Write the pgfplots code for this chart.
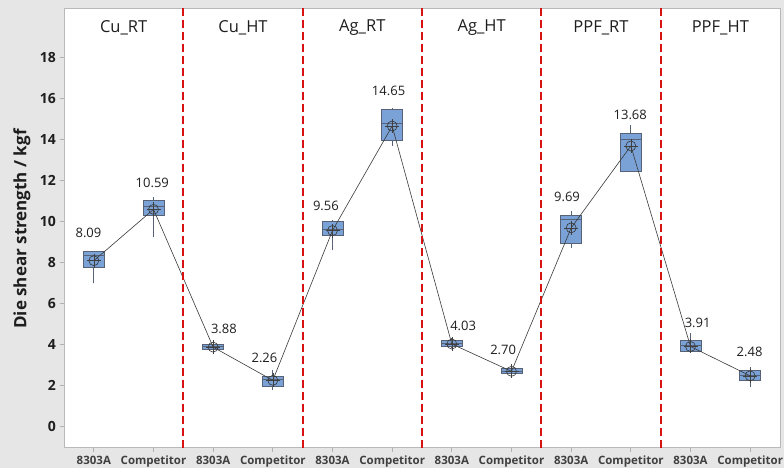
\documentclass[border=0pt]{standalone}
\usepackage{fontspec}
\setmainfont{Open Sans}
\usepackage{pgfplots}
\pgfplotsset{compat=1.18}
\usepgfplotslibrary{statistics}
\definecolor{bg}{RGB}{230,230,230}
\definecolor{boxfill}{RGB}{122,162,214}
\definecolor{boxedge}{RGB}{88,98,118}
\definecolor{sepred}{RGB}{214,18,18}
\definecolor{txt}{RGB}{30,30,30}
\pgfplotsset{mybox/.style={fill=boxfill, draw=boxedge, line width=0.8pt, solid, mark=none}}
\tikzset{ptitle/.style={font=\fontsize{16.5}{18}\selectfont, text=txt},
         mlab/.style={font=\fontsize{13}{15}\selectfont, text=txt}}
\begin{document}
\begin{tikzpicture}
\fill[bg] (0pt,0pt) rectangle (784pt,468pt);
\begin{axis}[at={(64pt,20.3pt)}, anchor=south west, scale only axis,
  width=716pt, height=439.7pt,
  xmin=0.5, xmax=12.5, ymin=-1.02, ymax=20.4,
  axis background/.style={fill=white},
  axis line style={gray!55, line width=0.8pt},
  xtick={1,...,12},
  xticklabels={8303A,Competitor,8303A,Competitor,8303A,Competitor,8303A,Competitor,8303A,Competitor,8303A,Competitor},
  ytick={0,2,...,18},
  tick align=outside, xtick pos=bottom, ytick pos=left,
  major tick length=4.5pt,
  tick style={gray!60, line width=0.8pt},
  /pgf/number format/assume math mode=true,
  yticklabel style={font=\fontsize{14}{16}\selectfont\bfseries, text=txt},
  xticklabel style={font=\fontsize{11.5}{14}\selectfont\bfseries, text=txt!85},
  boxplot/draw direction=y,
  boxplot/box extend=0.35,
  boxplot/whisker extend=0,
  clip=false,
]
% boxes
\addplot[mybox, boxplot prepared={draw position=1, lower whisker=6.99, lower quartile=7.77, median=8.35, upper quartile=8.56, upper whisker=8.56}] coordinates {};
\addplot[mybox, boxplot prepared={draw position=2, lower whisker=9.23, lower quartile=10.28, median=10.75, upper quartile=11.01, upper whisker=11.20}] coordinates {};
\addplot[mybox, boxplot prepared={draw position=3, lower whisker=3.70, lower quartile=3.77, median=3.90, upper quartile=4.01, upper whisker=4.05}] coordinates {};
\addplot[mybox, boxplot prepared={draw position=4, lower whisker=1.79, lower quartile=1.98, median=2.30, upper quartile=2.47, upper whisker=2.76}] coordinates {};
\addplot[mybox, boxplot prepared={draw position=5, lower whisker=8.61, lower quartile=9.34, median=9.59, upper quartile=9.99, upper whisker=10.07}] coordinates {};
\addplot[mybox, boxplot prepared={draw position=6, lower whisker=13.68, lower quartile=13.97, median=14.79, upper quartile=15.47, upper whisker=15.55}] coordinates {};
\addplot[mybox, boxplot prepared={draw position=7, lower whisker=3.85, lower quartile=3.90, median=4.05, upper quartile=4.23, upper whisker=4.30}] coordinates {};
\addplot[mybox, boxplot prepared={draw position=8, lower whisker=2.55, lower quartile=2.60, median=2.70, upper quartile=2.85, upper whisker=2.90}] coordinates {};
\addplot[mybox, boxplot prepared={draw position=9, lower whisker=8.69, lower quartile=8.94, median=10.12, upper quartile=10.28, upper whisker=10.51}] coordinates {};
\addplot[mybox, boxplot prepared={draw position=10, lower whisker=12.43, lower quartile=12.43, median=14.00, upper quartile=14.30, upper whisker=14.70}] coordinates {};
\addplot[mybox, boxplot prepared={draw position=11, lower whisker=3.60, lower quartile=3.69, median=3.98, upper quartile=4.19, upper whisker=4.55}] coordinates {};
\addplot[mybox, boxplot prepared={draw position=12, lower whisker=1.92, lower quartile=2.28, median=2.50, upper quartile=2.73, upper whisker=2.92}] coordinates {};
% mean line
\addplot[gray!45!black, line width=0.6pt, mark=none] coordinates {(1,8.09) (2,10.59) (3,3.88) (4,2.26) (5,9.56) (6,14.65) (7,4.03) (8,2.70) (9,9.69) (10,13.68) (11,3.91) (12,2.48)};
% mean symbols
\addplot[only marks, mark=o, mark size=5pt, mark options={draw=gray!40!black, fill opacity=0, line width=0.6pt}] coordinates {(1,8.09) (2,10.59) (3,3.88) (4,2.26) (5,9.56) (6,14.65) (7,4.03) (8,2.70) (9,9.69) (10,13.68) (11,3.91) (12,2.48)};
\addplot[only marks, mark=+, mark size=7pt, mark options={draw=gray!50!black, line width=0.6pt}] coordinates {(1,8.09) (2,10.59) (3,3.88) (4,2.26) (5,9.56) (6,14.65) (7,4.03) (8,2.70) (9,9.69) (10,13.68) (11,3.91) (12,2.48)};
% separators
\draw[sepred, line width=1.8pt, dash pattern=on 8pt off 4pt] (axis cs:2.5,-1.02) -- (axis cs:2.5,20.4);
\draw[sepred, line width=1.8pt, dash pattern=on 8pt off 4pt] (axis cs:4.5,-1.02) -- (axis cs:4.5,20.4);
\draw[sepred, line width=1.8pt, dash pattern=on 8pt off 4pt] (axis cs:6.5,-1.02) -- (axis cs:6.5,20.4);
\draw[sepred, line width=1.8pt, dash pattern=on 8pt off 4pt] (axis cs:8.5,-1.02) -- (axis cs:8.5,20.4);
\draw[sepred, line width=1.8pt, dash pattern=on 8pt off 4pt] (axis cs:10.5,-1.02) -- (axis cs:10.5,20.4);
% panel titles
\node[ptitle] at (axis cs:1.5,19.43) {Cu\_RT};
\node[ptitle] at (axis cs:3.5,19.43) {Cu\_HT};
\node[ptitle] at (axis cs:5.5,19.43) {Ag\_RT};
\node[ptitle] at (axis cs:7.5,19.43) {Ag\_HT};
\node[ptitle] at (axis cs:9.5,19.43) {PPF\_RT};
\node[ptitle] at (axis cs:11.5,19.43) {PPF\_HT};
% mean labels
\node[mlab] at (axis cs:0.91,9.43) {8.09};
\node[mlab] at (axis cs:1.98,11.87) {10.59};
\node[mlab] at (axis cs:3.18,4.75) {3.88};
\node[mlab] at (axis cs:3.86,3.34) {2.26};
\node[mlab] at (axis cs:4.89,10.75) {9.56};
\node[mlab] at (axis cs:5.94,16.37) {14.65};
\node[mlab] at (axis cs:7.19,4.92) {4.03};
\node[mlab] at (axis cs:7.86,3.74) {2.70};
\node[mlab] at (axis cs:8.93,11.21) {9.69};
\node[mlab] at (axis cs:9.99,15.19) {13.68};
\node[mlab] at (axis cs:11.12,5.07) {3.91};
\node[mlab] at (axis cs:11.99,3.66) {2.48};
\end{axis}
\node[rotate=90, font=\fontsize{17}{20}\selectfont\bfseries, text=txt] at (22pt,239pt) {Die shear strength / kgf};
\pgfresetboundingbox
\path (0pt,0pt) rectangle (784pt,468pt);
\end{tikzpicture}
\end{document}
